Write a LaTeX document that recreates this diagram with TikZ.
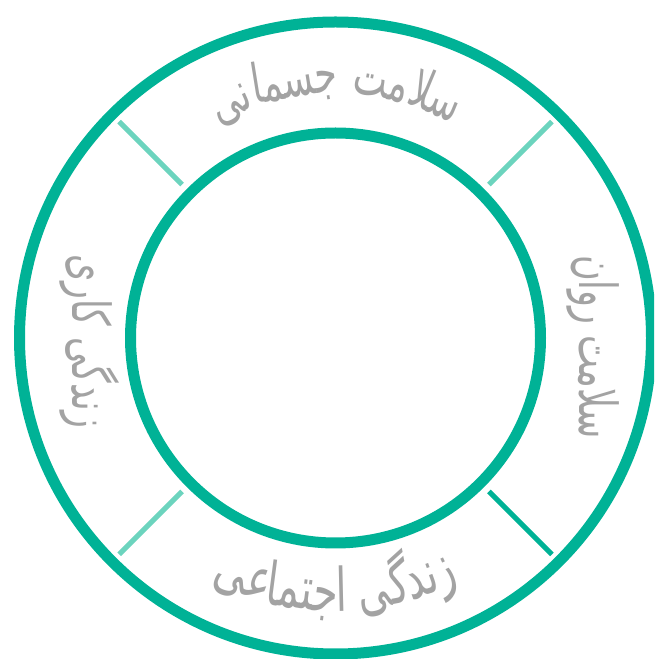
\documentclass[tikz,border=0pt]{standalone}
\usepackage{fontspec}
\usepackage{graphicx}
\usetikzlibrary{calc}
\TeXXeTstate=1
\newfontfamily\pfont[Script=Arabic]{DejaVu Sans}
\newcommand\sizedfont[1]{\pfont\fontsize{#1}{#1}\selectfont}
\newcommand\tall[1]{\scalebox{1}[1.5]{#1}}
\definecolor{ringteal}{RGB}{0,178,150}
\definecolor{lightteal}{RGB}{108,212,190}
\definecolor{txtgray}{RGB}{163,163,163}
\newdimen\arcTot
\newdimen\arcAcc
\newbox\arcBox
\makeatletter
% measure the pieces of a curved label (done outside the picture)
% #1 key, #2 font size, #3 pieces
\newcommand\storeWidths[3]{%
  \global\arcTot=0pt
  \expandafter\xdef\csname pwsize#1\endcsname{#2}%
  \foreach \pc [count=\k] in {#3}{%
    \setbox\arcBox\hbox{\sizedfont{#2}\beginR\pc\endR}%
    \global\advance\arcTot by\wd\arcBox
    \expandafter\xdef\csname pw#1\k\endcsname{\strip@pt\wd\arcBox}}%
  \expandafter\xdef\csname pwtot#1\endcsname{\strip@pt\arcTot}}
\makeatother
% #1 key/name prefix, #2 baseline radius, #3 mid angle, #4 sign (-1 top, +1 bottom), #5 pieces (logical order)
\newcommand\arcText[5]{%
  \global\arcAcc=0pt
  \edef\totn{\csname pwtot#1\endcsname}%
  \edef\fsz{\csname pwsize#1\endcsname}%
  \foreach \pc [count=\k] in {#5}{%
    \edef\pcw{\csname pw#1\k\endcsname}%
    \pgfmathsetmacro\accn{\arcAcc}%
    \pgfmathsetmacro\ang{#3 + #4*deg((0.5*\totn - \accn - 0.5*\pcw)/#2)}%
    \pgfmathsetmacro\rot{\ang - (#3)}%
    \node[lbl, font=\sizedfont{\fsz}, anchor=base, rotate=\rot, name=#1\k] at ($(c)+(\ang:#2)$) {\tall{\beginR\pc\endR}};
    \global\advance\arcAcc by\pcw pt\relax
  }%
}
\begin{document}
\storeWidths{body}{36}{سلا,مت,~,جسما,نی}%
\storeWidths{social}{40}{ز,ند,گی,~,ا,جتما,عی}%
\begin{tikzpicture}[x=1pt,y=1pt,
  ring/.style={circle, draw=ringteal, line width=11pt, inner sep=0pt, outer sep=0pt},
  sepline/.style={line width=5pt, shorten <=12pt, shorten >=10pt},
  lbl/.style={text=txtgray, inner sep=0pt}]
\useasboundingbox (0,0) rectangle (654,659);
\clip (0,0) rectangle (654,659);
\coordinate (c) at (335.5,321);
\node[ring, minimum size=632pt] (outer) at (c) {};
\node[ring, minimum size=410pt] (inner) at (c) {};
\draw[sepline, lightteal] (inner.135) -- (outer.135);
\draw[sepline, lightteal] (inner.45) -- (outer.45);
\draw[sepline, lightteal] (inner.225) -- (outer.225);
\draw[sepline, ringteal] (inner.315) -- (outer.315);
\arcText{body}{244}{90}{-1}{سلا,مت,~,جسما,نی}
\arcText{social}{273}{-90}{1}{ز,ند,گی,~,ا,جتما,عی}
\node[lbl, font=\sizedfont{35}, rotate=-90] (psych) at (593,312) {\tall{\beginR سلامت روان\endR}};
\node[lbl, font=\sizedfont{35}, rotate=-90] (work) at (90,317.5) {\tall{\beginR زندگی کاری\endR}};
\end{tikzpicture}
\end{document}
